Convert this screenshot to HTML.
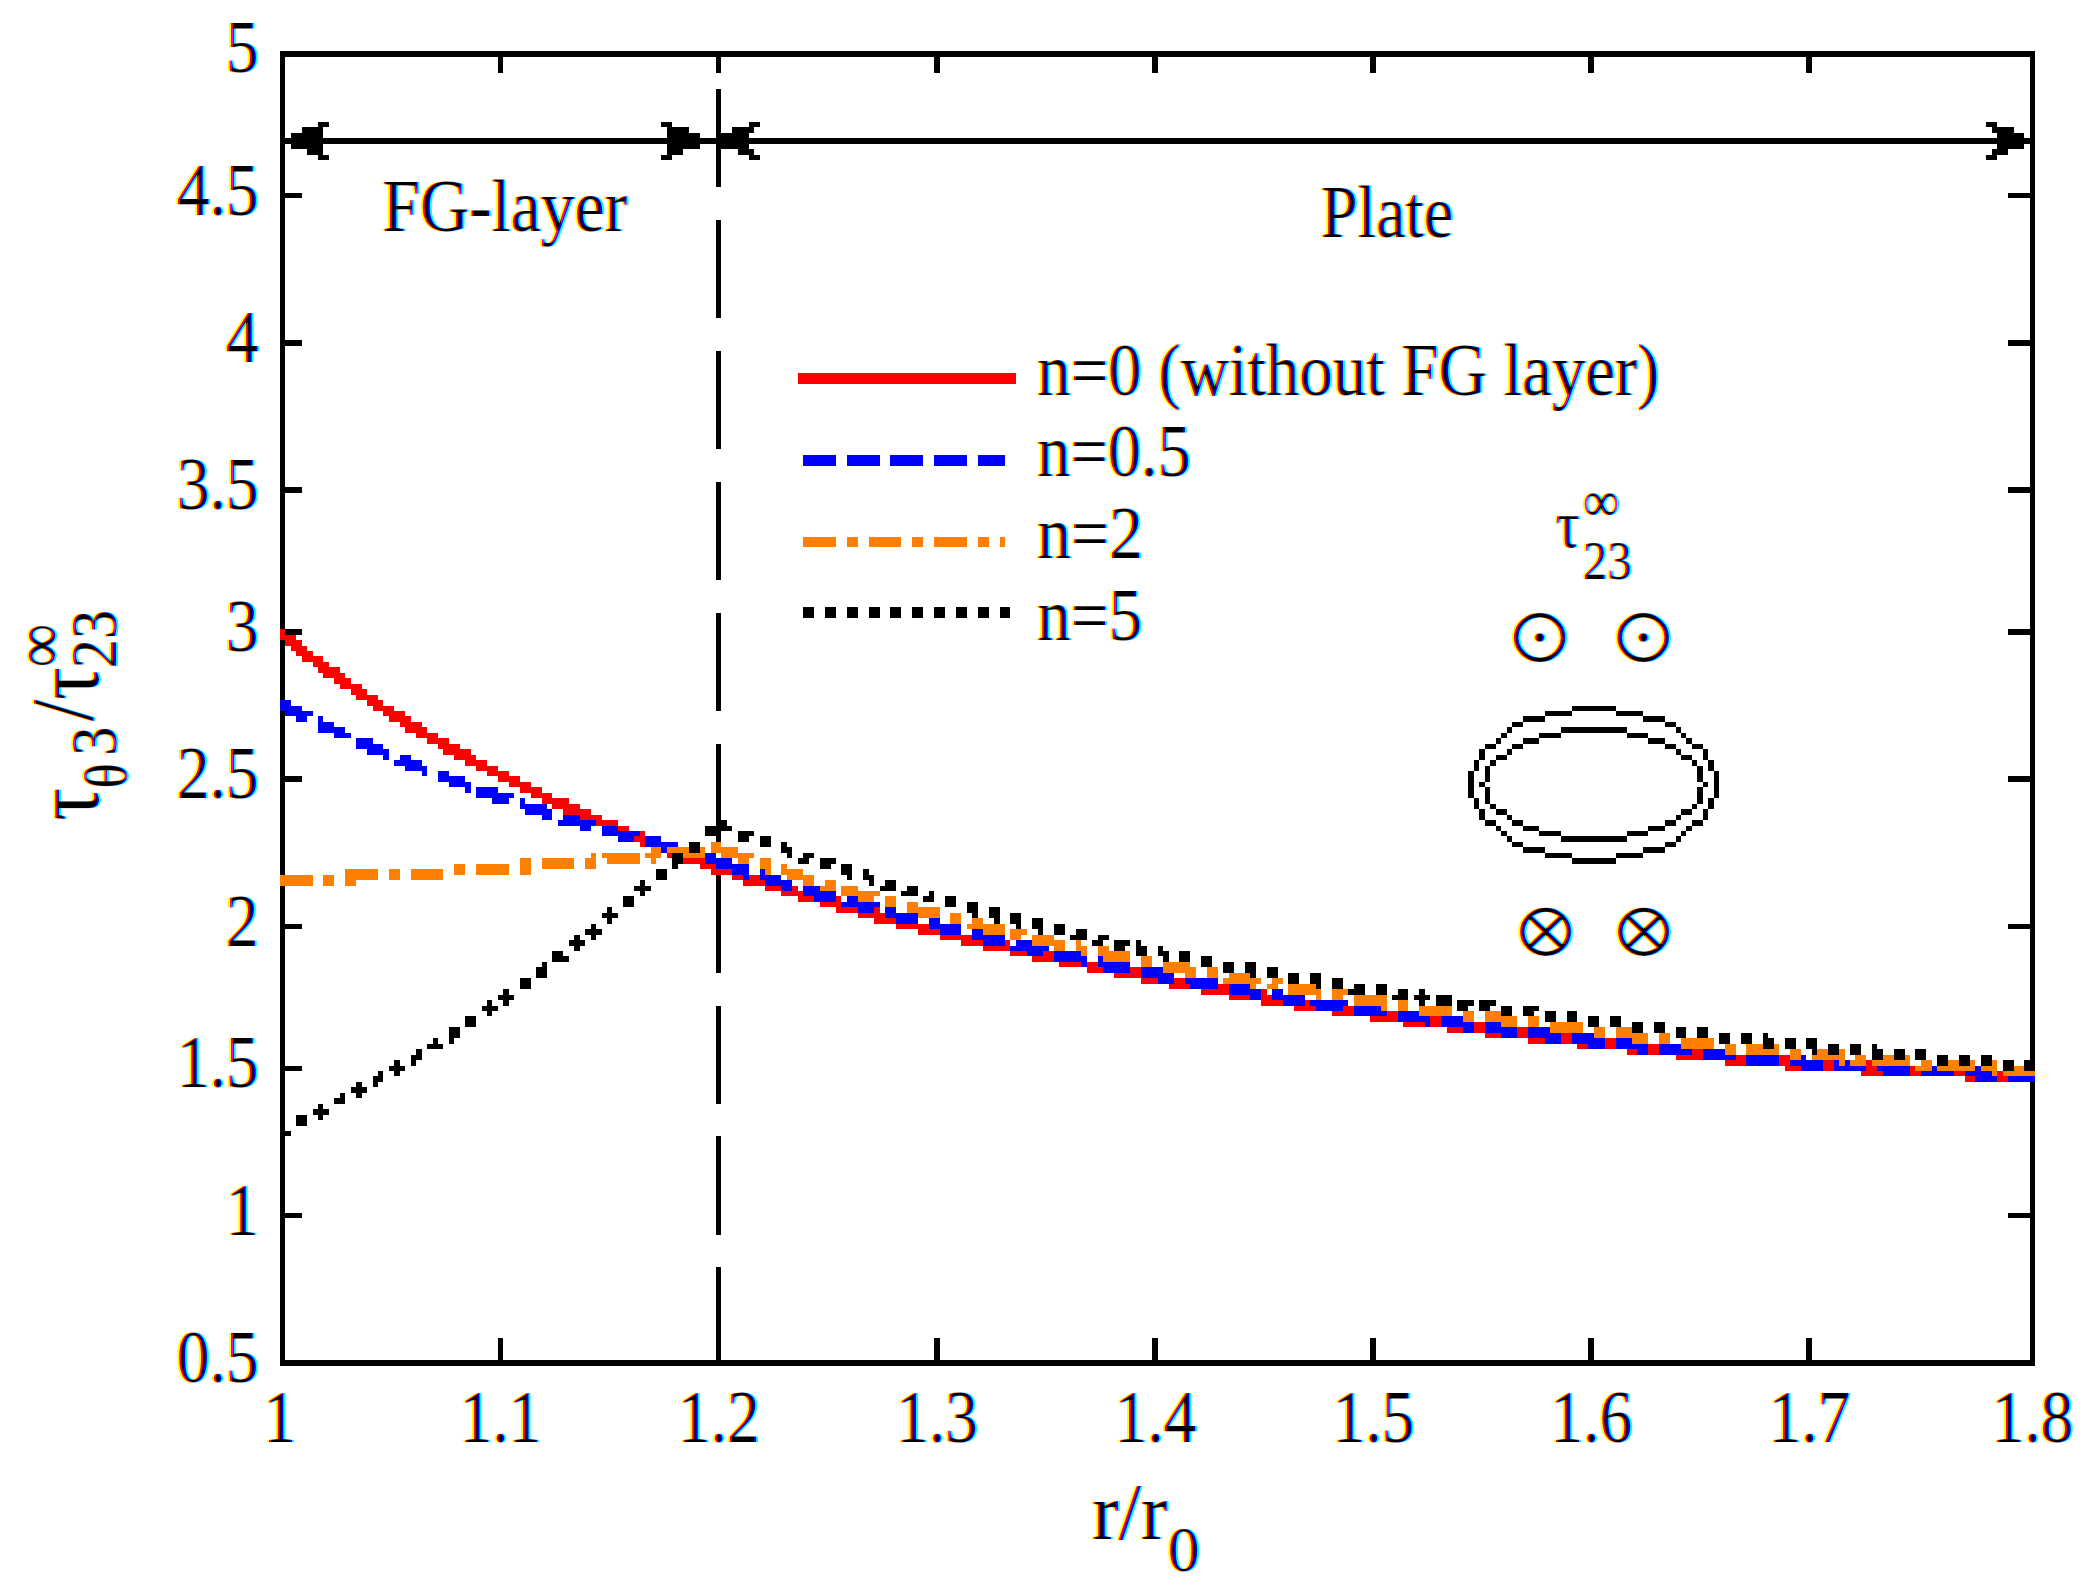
<!DOCTYPE html>
<html lang="en"><head><meta charset="utf-8"><title>Stress distribution chart</title>
<style>
html,body{margin:0;padding:0;background:#fff}
body{width:2099px;height:1590px;overflow:hidden}
svg{display:block}
text{font-family:"Liberation Serif",serif;fill:#000}
text.sym{font-family:"DejaVu Serif","DejaVu Sans",serif;stroke:#fff;stroke-width:1.7px}
</style></head><body>
<svg width="2099" height="1590" viewBox="0 0 2099 1590">
<defs>
<filter id="ct" filterUnits="userSpaceOnUse" x="0" y="0" width="2099" height="1590" color-interpolation-filters="sRGB">
<feColorMatrix in="SourceGraphic" type="matrix" values="0 0 0 0 0  0 0 0 0 0  0 0 0 0 0  -1 0 0 1 0" result="ink"/>
<feOffset in="ink" dx="2.4" dy="0" result="aR"/>
<feOffset in="ink" dx="-2.4" dy="0" result="aB"/>
<feColorMatrix in="aR" type="matrix" values="0 0 0 -1 1  0 0 0 0 1  0 0 0 0 1  0 0 0 0 1" result="cR"/>
<feColorMatrix in="ink" type="matrix" values="0 0 0 0 1  0 0 0 -1 1  0 0 0 0 1  0 0 0 0 1" result="cG"/>
<feColorMatrix in="aB" type="matrix" values="0 0 0 0 1  0 0 0 0 1  0 0 0 -1 1  0 0 0 0 1" result="cB"/>
<feBlend in="cR" in2="cG" mode="multiply" result="t"/>
<feBlend in="t" in2="cB" mode="multiply"/>
</filter>
</defs>
<rect width="2099" height="1590" fill="#fff"/>
<g shape-rendering="crispEdges">
<path d="M279.85 51.1H2035.4V56.55H279.85ZM279.85 1360.06H2035.4V1365.51H279.85ZM279.85 51.1H285.3V1365.51H279.85ZM2029.94 51.1H2035.4V1365.51H2029.94ZM497.93 56.55H503.38V72.92H497.93ZM497.93 1338.24H503.38V1360.06H497.93ZM716.01 56.55H721.46V72.92H716.01ZM716.01 1338.24H721.46V1360.06H716.01ZM934.09 56.55H939.54V72.92H934.09ZM934.09 1338.24H939.54V1360.06H934.09ZM1152.17 56.55H1157.62V72.92H1152.17ZM1152.17 1338.24H1157.62V1360.06H1152.17ZM1370.25 56.55H1375.7V72.92H1370.25ZM1370.25 1338.24H1375.7V1360.06H1370.25ZM1588.33 56.55H1593.78V72.92H1588.33ZM1588.33 1338.24H1593.78V1360.06H1588.33ZM1806.41 56.55H1811.86V72.92H1806.41ZM1806.41 1338.24H1811.86V1360.06H1806.41ZM285.3 192.9H301.66V198.36H285.3ZM2008.14 192.9H2029.94V198.36H2008.14ZM285.3 340.16H301.66V345.62H285.3ZM2008.14 340.16H2029.94V345.62H2008.14ZM285.3 487.42H301.66V492.87H285.3ZM2008.14 487.42H2029.94V492.87H2008.14ZM285.3 629.22H301.66V634.68H285.3ZM2008.14 629.22H2029.94V634.68H2008.14ZM285.3 776.48H301.66V781.94H285.3ZM2008.14 776.48H2029.94V781.94H2008.14ZM285.3 923.74H301.66V929.19H285.3ZM2008.14 923.74H2029.94V929.19H2008.14ZM285.3 1065.54H301.66V1071H285.3ZM2008.14 1065.54H2029.94V1071H2008.14ZM285.3 1212.8H301.66V1218.26H285.3ZM2008.14 1212.8H2029.94V1218.26H2008.14Z" fill="#000"/>
<path d="M716.01 89.28H721.46V187.45H716.01ZM716.01 220.17H721.46V318.35H716.01ZM716.01 351.07H721.46V449.24H716.01ZM716.01 481.97H721.46V580.14H716.01ZM716.01 612.86H721.46V711.03H716.01ZM716.01 743.76H721.46V841.93H716.01ZM716.01 874.65H721.46V972.83H716.01ZM716.01 1005.55H721.46V1103.72H716.01ZM716.01 1136.45H721.46V1234.62H716.01ZM716.01 1267.34H721.46V1365.51H716.01Z" fill="#000"/>
<path d="M279.85 629.22H285.3V634.68H279.85ZM279.85 634.68H296.21V640.13H279.85ZM285.3 640.13H301.66V645.59H285.3ZM290.76 645.59H307.11V651.04H290.76ZM296.21 651.04H312.56V656.49H296.21ZM301.66 656.49H323.47V661.95H301.66ZM312.56 661.95H328.92V667.4H312.56ZM318.02 667.4H339.82V672.86H318.02ZM323.47 672.86H345.28V678.31H323.47ZM334.37 678.31H350.73V683.76H334.37ZM339.82 683.76H361.63V689.22H339.82ZM350.73 689.22H367.08V694.67H350.73ZM356.18 694.67H377.99V700.13H356.18ZM367.08 700.13H383.44V705.58H367.08ZM372.54 705.58H394.34V711.03H372.54ZM383.44 711.03H405.25V716.49H383.44ZM388.89 716.49H410.7V721.94H388.89ZM399.8 721.94H421.6V727.4H399.8ZM405.25 727.4H427.06V732.85H405.25ZM416.15 732.85H437.96V738.3H416.15ZM427.06 738.3H448.86V743.76H427.06ZM437.96 743.76H459.77V749.21H437.96ZM443.41 749.21H470.67V754.67H443.41ZM454.32 754.67H476.12V760.12H454.32ZM465.22 760.12H487.03V765.57H465.22ZM476.12 765.57H497.93V771.03H476.12ZM487.03 771.03H508.84V776.48H487.03ZM497.93 776.48H519.74V781.94H497.93ZM508.84 781.94H530.64V787.39H508.84ZM519.74 787.39H541.55V792.84H519.74ZM530.64 792.84H552.45V798.3H530.64ZM541.55 798.3H568.81V803.75H541.55ZM552.45 803.75H579.71V809.21H552.45ZM563.36 809.21H590.62V814.66H563.36ZM574.26 814.66H601.52V820.11H574.26ZM590.62 820.11H617.88V825.57H590.62ZM601.52 825.57H628.78V831.02H601.52ZM612.42 831.02H645.14V836.48H612.42ZM628.78 836.48H656.04V841.93H628.78ZM639.68 841.93H672.4V847.38H639.68ZM656.04 847.38H688.75V852.84H656.04ZM666.94 852.84H699.66V858.29H666.94ZM683.3 858.29H716.01V863.75H683.3ZM699.66 863.75H732.37V869.2H699.66ZM710.56 869.2H748.72V874.65H710.56ZM732.37 874.65H765.08V880.11H732.37ZM743.27 880.11H781.44V885.56H743.27ZM765.08 885.56H797.79V891.02H765.08ZM781.44 891.02H819.6V896.47H781.44ZM797.79 896.47H841.41V901.92H797.79ZM819.6 901.92H857.76V907.38H819.6ZM835.96 907.38H879.57V912.83H835.96ZM857.76 912.83H895.93V918.29H857.76ZM874.12 918.29H917.74V923.74H874.12ZM895.93 923.74H939.54V929.19H895.93ZM917.74 929.19H961.35V934.65H917.74ZM939.54 934.65H988.61V940.1H939.54ZM961.35 940.1H1010.42V945.56H961.35ZM983.16 945.56H1037.68V951.01H983.16ZM1010.42 951.01H1064.94V956.46H1010.42ZM1032.23 956.46H1086.75V961.92H1032.23ZM1059.49 961.92H1114.01V967.37H1059.49ZM1086.75 967.37H1141.27V972.83H1086.75ZM1114.01 972.83H1173.98V978.28H1114.01ZM1141.27 978.28H1201.24V983.73H1141.27ZM1168.53 983.73H1233.95V989.19H1168.53ZM1201.24 989.19H1266.66V994.64H1201.24ZM1228.5 994.64H1299.38V1000.1H1228.5ZM1261.21 1000.1H1337.54V1005.55H1261.21ZM1293.92 1005.55H1370.25V1011H1293.92ZM1332.09 1011H1408.42V1016.46H1332.09ZM1370.25 1016.46H1446.58V1021.91H1370.25ZM1402.96 1021.91H1490.2V1027.37H1402.96ZM1446.58 1027.37H1533.81V1032.82H1446.58ZM1484.74 1032.82H1582.88V1038.27H1484.74ZM1528.36 1038.27H1631.95V1043.73H1528.36ZM1577.43 1043.73H1681.02V1049.18H1577.43ZM1626.5 1049.18H1735.54V1054.64H1626.5ZM1675.56 1054.64H1790.06V1060.09H1675.56ZM1724.63 1060.09H1871.84V1065.54H1724.63ZM1784.6 1065.54H1975.42V1071H1784.6ZM1860.93 1071H2035.4V1076.45H1860.93ZM1964.52 1076.45H2035.4V1081.91H1964.52Z" fill="#ff0000"/>
<path d="M279.85 700.13H290.76V705.58H279.85ZM279.85 705.58H301.66V711.03H279.85ZM285.3 711.03H312.56V716.49H285.3ZM296.21 716.49H307.11V721.94H296.21ZM318.02 716.49H323.47V721.94H318.02ZM318.02 721.94H334.37V727.4H318.02ZM318.02 727.4H345.28V732.85H318.02ZM334.37 732.85H350.73V738.3H334.37ZM356.18 738.3H372.54V743.76H356.18ZM356.18 743.76H383.44V749.21H356.18ZM367.08 749.21H388.89V754.67H367.08ZM383.44 754.67H388.89V760.12H383.44ZM394.34 760.12H421.6V765.57H394.34ZM399.8 754.67H410.7V760.12H399.8ZM405.25 765.57H427.06V771.03H405.25ZM421.6 771.03H427.06V776.48H421.6ZM437.96 771.03H448.86V776.48H437.96ZM437.96 776.48H465.22V781.94H437.96ZM448.86 781.94H470.67V787.39H448.86ZM465.22 787.39H470.67V792.84H465.22ZM476.12 787.39H497.93V792.84H476.12ZM476.12 792.84H514.29V798.3H476.12ZM492.48 798.3H508.84V803.75H492.48ZM519.74 798.3H525.19V803.75H519.74ZM519.74 803.75H547V809.21H519.74ZM525.19 809.21H552.45V814.66H525.19ZM541.55 814.66H552.45V820.11H541.55ZM557.9 820.11H596.07V825.57H557.9ZM563.36 814.66H579.71V820.11H563.36ZM579.71 825.57H590.62V831.02H579.71ZM601.52 825.57H617.88V831.02H601.52ZM601.52 831.02H639.68V836.48H601.52ZM617.88 836.48H634.23V841.93H617.88ZM645.14 836.48H661.49V841.93H645.14ZM645.14 841.93H677.85V847.38H645.14ZM661.49 847.38H677.85V852.84H661.49ZM688.75 847.38H705.11V852.84H688.75ZM688.75 852.84H716.01V858.29H688.75ZM705.11 858.29H732.37V863.75H705.11ZM716.01 863.75H748.72V869.2H716.01ZM732.37 869.2H748.72V874.65H732.37ZM743.27 874.65H748.72V880.11H743.27ZM759.63 869.2H765.08V874.65H759.63ZM759.63 874.65H781.44V880.11H759.63ZM765.08 880.11H792.34V885.56H765.08ZM781.44 885.56H792.34V891.02H781.44ZM803.24 885.56H819.6V891.02H803.24ZM803.24 891.02H835.96V896.47H803.24ZM814.15 896.47H835.96V901.92H814.15ZM841.41 901.92H879.57V907.38H841.41ZM846.86 896.47H857.76V901.92H846.86ZM857.76 907.38H874.12V912.83H857.76ZM885.02 907.38H895.93V912.83H885.02ZM885.02 912.83H917.74V918.29H885.02ZM895.93 918.29H917.74V923.74H895.93ZM928.64 918.29H939.54V923.74H928.64ZM928.64 923.74H961.35V929.19H928.64ZM939.54 929.19H961.35V934.65H939.54ZM972.26 929.19H983.16V934.65H972.26ZM972.26 934.65H1004.97V940.1H972.26ZM983.16 940.1H1004.97V945.56H983.16ZM1010.42 945.56H1048.58V951.01H1010.42ZM1015.87 940.1H1032.23V945.56H1015.87ZM1026.78 951.01H1043.13V956.46H1026.78ZM1054.04 951.01H1081.3V956.46H1054.04ZM1054.04 956.46H1086.75V961.92H1054.04ZM1081.3 961.92H1086.75V967.37H1081.3ZM1097.65 956.46H1108.56V961.92H1097.65ZM1097.65 961.92H1130.36V967.37H1097.65ZM1103.1 967.37H1130.36V972.83H1103.1ZM1141.27 967.37H1163.08V972.83H1141.27ZM1141.27 972.83H1173.98V978.28H1141.27ZM1157.62 978.28H1173.98V983.73H1157.62ZM1184.88 972.83H1190.34V978.28H1184.88ZM1184.88 978.28H1217.6V983.73H1184.88ZM1190.34 983.73H1217.6V989.19H1190.34ZM1228.5 983.73H1250.31V989.19H1228.5ZM1228.5 989.19H1261.21V994.64H1228.5ZM1250.31 994.64H1261.21V1000.1H1250.31ZM1272.12 989.19H1283.02V994.64H1272.12ZM1272.12 994.64H1304.83V1000.1H1272.12ZM1283.02 1000.1H1304.83V1005.55H1283.02ZM1310.28 1000.1H1348.44V1005.55H1310.28ZM1315.73 1005.55H1342.99V1011H1315.73ZM1353.9 1005.55H1386.61V1016.46H1353.9ZM1397.51 1011H1424.77V1016.46H1397.51ZM1397.51 1016.46H1430.22V1021.91H1397.51ZM1424.77 1021.91H1430.22V1027.37H1424.77ZM1441.13 1016.46H1468.39V1021.91H1441.13ZM1441.13 1021.91H1473.84V1027.37H1441.13ZM1462.94 1027.37H1473.84V1032.82H1462.94ZM1484.74 1021.91H1506.55V1027.37H1484.74ZM1484.74 1027.37H1517.46V1032.82H1484.74ZM1501.1 1032.82H1517.46V1038.27H1501.1ZM1528.36 1027.37H1550.17V1032.82H1528.36ZM1528.36 1032.82H1561.07V1038.27H1528.36ZM1544.72 1038.27H1561.07V1043.73H1544.72ZM1571.98 1032.82H1593.78V1038.27H1571.98ZM1571.98 1038.27H1604.69V1043.73H1571.98ZM1588.33 1043.73H1604.69V1049.18H1588.33ZM1615.59 1038.27H1642.85V1043.73H1615.59ZM1615.59 1043.73H1648.3V1049.18H1615.59ZM1637.4 1049.18H1648.3V1054.64H1637.4ZM1659.21 1043.73H1691.92V1054.64H1659.21ZM1702.82 1049.18H1735.54V1060.09H1702.82ZM1746.44 1054.64H1779.15V1065.54H1746.44ZM1790.06 1054.64H1806.41V1060.09H1790.06ZM1790.06 1060.09H1822.77V1065.54H1790.06ZM1800.96 1065.54H1822.77V1071H1800.96ZM1833.67 1060.09H1866.38V1071H1833.67ZM1877.29 1060.09H1888.19V1065.54H1877.29ZM1877.29 1065.54H1910V1071H1877.29ZM1882.74 1071H1910V1076.45H1882.74ZM1920.9 1065.54H1953.62V1076.45H1920.9ZM1964.52 1065.54H1986.33V1071H1964.52ZM1964.52 1071H1997.23V1076.45H1964.52ZM1975.42 1076.45H1997.23V1081.91H1975.42ZM2008.14 1071H2035.4V1081.91H2008.14Z" fill="#0000ff"/>
<path d="M279.85 874.65H312.56V885.56H279.85ZM323.47 874.65H334.37V885.56H323.47ZM345.28 880.11H356.18V885.56H345.28ZM345.28 869.2H377.99V880.11H345.28ZM388.89 869.2H399.8V880.11H388.89ZM410.7 869.2H443.41V880.11H410.7ZM454.32 863.75H465.22V874.65H454.32ZM476.12 863.75H508.84V874.65H476.12ZM519.74 858.29H530.64V874.65H519.74ZM541.55 858.29H574.26V869.2H541.55ZM585.16 858.29H596.07V869.2H585.16ZM590.62 852.84H596.07V858.29H590.62ZM601.52 852.84H639.68V858.29H601.52ZM606.97 858.29H639.68V863.75H606.97ZM645.14 852.84H661.49V858.29H645.14ZM650.59 858.29H656.04V863.75H650.59ZM650.59 847.38H661.49V852.84H650.59ZM666.94 847.38H705.11V852.84H666.94ZM672.4 852.84H705.11V858.29H672.4ZM710.56 841.93H721.46V847.38H710.56ZM710.56 847.38H737.82V852.84H710.56ZM721.46 852.84H754.18V858.29H721.46ZM737.82 858.29H748.72V863.75H737.82ZM759.63 858.29H770.53V869.2H759.63ZM765.08 869.2H770.53V874.65H765.08ZM781.44 863.75H786.89V869.2H781.44ZM781.44 869.2H803.24V874.65H781.44ZM786.89 874.65H814.15V880.11H786.89ZM803.24 880.11H814.15V885.56H803.24ZM819.6 885.56H835.96V891.02H819.6ZM825.05 880.11H835.96V885.56H825.05ZM841.41 885.56H857.76V891.02H841.41ZM841.41 891.02H879.57V896.47H841.41ZM857.76 896.47H874.12V901.92H857.76ZM885.02 896.47H895.93V907.38H885.02ZM906.83 901.92H917.74V907.38H906.83ZM906.83 907.38H939.54V912.83H906.83ZM917.74 912.83H939.54V918.29H917.74ZM950.45 912.83H961.35V923.74H950.45ZM966.8 923.74H1004.97V929.19H966.8ZM972.26 918.29H983.16V923.74H972.26ZM983.16 929.19H1004.97V934.65H983.16ZM1010.42 934.65H1021.32V940.1H1010.42ZM1010.42 929.19H1026.78V934.65H1010.42ZM1032.23 934.65H1054.04V940.1H1032.23ZM1032.23 940.1H1064.94V945.56H1032.23ZM1054.04 945.56H1064.94V951.01H1054.04ZM1075.84 940.1H1081.3V945.56H1075.84ZM1075.84 945.56H1086.75V951.01H1075.84ZM1081.3 951.01H1086.75V956.46H1081.3ZM1097.65 945.56H1108.56V951.01H1097.65ZM1097.65 951.01H1130.36V956.46H1097.65ZM1103.1 956.46H1130.36V961.92H1103.1ZM1141.27 956.46H1152.17V967.37H1141.27ZM1163.08 961.92H1190.34V967.37H1163.08ZM1163.08 967.37H1195.79V972.83H1163.08ZM1184.88 972.83H1195.79V978.28H1184.88ZM1206.69 967.37H1217.6V978.28H1206.69ZM1223.05 978.28H1261.21V983.73H1223.05ZM1228.5 972.83H1250.31V978.28H1228.5ZM1250.31 983.73H1255.76V989.19H1250.31ZM1266.66 983.73H1277.57V989.19H1266.66ZM1272.12 978.28H1283.02V983.73H1272.12ZM1288.47 983.73H1315.73V989.19H1288.47ZM1288.47 989.19H1321.18V994.64H1288.47ZM1315.73 994.64H1321.18V1000.1H1315.73ZM1332.09 994.64H1342.99V1000.1H1332.09ZM1332.09 989.19H1348.44V994.64H1332.09ZM1353.9 994.64H1386.61V1005.55H1353.9ZM1381.16 1005.55H1386.61V1011H1381.16ZM1397.51 1000.1H1408.42V1011H1397.51ZM1419.32 1000.1H1424.77V1005.55H1419.32ZM1419.32 1005.55H1452.03V1016.46H1419.32ZM1462.94 1011H1473.84V1021.91H1462.94ZM1484.74 1011H1506.55V1016.46H1484.74ZM1484.74 1016.46H1517.46V1021.91H1484.74ZM1501.1 1021.91H1517.46V1027.37H1501.1ZM1528.36 1016.46H1539.26V1027.37H1528.36ZM1550.17 1021.91H1582.88V1032.82H1550.17ZM1593.78 1027.37H1604.69V1038.27H1593.78ZM1615.59 1027.37H1637.4V1032.82H1615.59ZM1615.59 1032.82H1648.3V1038.27H1615.59ZM1631.95 1038.27H1648.3V1043.73H1631.95ZM1659.21 1032.82H1670.11V1043.73H1659.21ZM1681.02 1038.27H1713.73V1049.18H1681.02ZM1724.63 1038.27H1730.08V1043.73H1724.63ZM1724.63 1043.73H1735.54V1054.64H1724.63ZM1746.44 1043.73H1779.15V1054.64H1746.44ZM1790.06 1049.18H1800.96V1060.09H1790.06ZM1811.86 1049.18H1844.58V1060.09H1811.86ZM1839.12 1060.09H1844.58V1065.54H1839.12ZM1850.03 1060.09H1866.38V1065.54H1850.03ZM1855.48 1054.64H1866.38V1060.09H1855.48ZM1871.84 1060.09H1910V1065.54H1871.84ZM1877.29 1054.64H1910V1060.09H1877.29ZM1915.45 1065.54H1931.81V1071H1915.45ZM1920.9 1060.09H1931.81V1065.54H1920.9ZM1937.26 1065.54H1975.42V1071H1937.26ZM1942.71 1060.09H1975.42V1065.54H1942.71ZM1980.88 1065.54H1997.23V1071H1980.88ZM1986.33 1060.09H1997.23V1065.54H1986.33ZM1991.78 1071H1997.23V1076.45H1991.78ZM2002.68 1071H2035.4V1076.45H2002.68ZM2008.14 1065.54H2035.4V1071H2008.14Z" fill="#ff8000"/>
<path d="M279.85 1125.54H285.3V1130.99H279.85ZM279.85 1136.45H285.3V1141.9H279.85ZM279.85 1130.99H290.76V1136.45H279.85ZM296.21 1114.63H307.11V1125.54H296.21ZM312.56 1109.18H328.92V1114.63H312.56ZM318.02 1103.72H323.47V1109.18H318.02ZM318.02 1114.63H323.47V1120.08H318.02ZM334.37 1098.27H345.28V1103.72H334.37ZM339.82 1092.81H345.28V1098.27H339.82ZM350.73 1087.36H367.08V1092.81H350.73ZM356.18 1081.91H361.63V1087.36H356.18ZM356.18 1092.81H361.63V1098.27H356.18ZM372.54 1081.91H377.99V1087.36H372.54ZM372.54 1076.45H383.44V1081.91H372.54ZM377.99 1071H383.44V1076.45H377.99ZM388.89 1065.54H405.25V1071H388.89ZM394.34 1060.09H399.8V1065.54H394.34ZM394.34 1071H399.8V1076.45H394.34ZM410.7 1060.09H416.15V1065.54H410.7ZM410.7 1054.64H421.6V1060.09H410.7ZM416.15 1049.18H421.6V1054.64H416.15ZM427.06 1043.73H443.41V1049.18H427.06ZM432.51 1038.27H437.96V1043.73H432.51ZM448.86 1038.27H454.32V1043.73H448.86ZM448.86 1027.37H459.77V1038.27H448.86ZM465.22 1016.46H476.12V1027.37H465.22ZM481.58 1005.55H497.93V1011H481.58ZM487.03 1000.1H492.48V1005.55H487.03ZM487.03 1011H492.48V1016.46H487.03ZM497.93 994.64H514.29V1000.1H497.93ZM503.38 989.19H508.84V994.64H503.38ZM503.38 1000.1H508.84V1005.55H503.38ZM519.74 978.28H530.64V989.19H519.74ZM536.1 967.37H547V978.28H536.1ZM541.55 961.92H547V967.37H541.55ZM552.45 951.01H563.36V956.46H552.45ZM552.45 956.46H568.81V961.92H552.45ZM568.81 940.1H585.16V945.56H568.81ZM574.26 934.65H579.71V940.1H574.26ZM574.26 945.56H579.71V951.01H574.26ZM585.16 929.19H601.52V934.65H585.16ZM590.62 923.74H596.07V929.19H590.62ZM590.62 934.65H596.07V940.1H590.62ZM601.52 912.83H617.88V918.29H601.52ZM606.97 907.38H612.42V912.83H606.97ZM606.97 918.29H612.42V923.74H606.97ZM623.33 896.47H634.23V907.38H623.33ZM634.23 885.56H650.59V891.02H634.23ZM639.68 880.11H645.14V885.56H639.68ZM639.68 891.02H645.14V896.47H639.68ZM656.04 869.2H666.94V880.11H656.04ZM672.4 863.75H677.85V869.2H672.4ZM672.4 852.84H683.3V863.75H672.4ZM688.75 841.93H699.66V852.84H688.75ZM705.11 831.02H721.46V836.48H705.11ZM705.11 825.57H732.37V831.02H705.11ZM721.46 820.11H726.92V825.57H721.46ZM737.82 836.48H748.72V841.93H737.82ZM737.82 831.02H754.18V836.48H737.82ZM759.63 836.48H770.53V847.38H759.63ZM781.44 841.93H786.89V847.38H781.44ZM781.44 847.38H792.34V852.84H781.44ZM786.89 852.84H792.34V858.29H786.89ZM797.79 858.29H808.7V863.75H797.79ZM803.24 852.84H814.15V858.29H803.24ZM819.6 863.75H830.5V869.2H819.6ZM819.6 858.29H835.96V863.75H819.6ZM841.41 863.75H852.31V874.65H841.41ZM846.86 874.65H852.31V880.11H846.86ZM863.22 869.2H868.67V874.65H863.22ZM863.22 874.65H874.12V880.11H863.22ZM868.67 880.11H874.12V885.56H868.67ZM879.57 885.56H895.93V891.02H879.57ZM885.02 880.11H895.93V885.56H885.02ZM901.38 891.02H917.74V896.47H901.38ZM906.83 885.56H917.74V891.02H906.83ZM923.19 896.47H934.09V901.92H923.19ZM928.64 891.02H934.09V896.47H928.64ZM945 896.47H955.9V907.38H945ZM966.8 901.92H977.71V912.83H966.8ZM972.26 912.83H977.71V918.29H972.26ZM988.61 907.38H999.52V918.29H988.61ZM994.06 918.29H999.52V923.74H994.06ZM1010.42 912.83H1021.32V923.74H1010.42ZM1015.87 923.74H1021.32V929.19H1015.87ZM1032.23 918.29H1043.13V929.19H1032.23ZM1037.68 929.19H1043.13V934.65H1037.68ZM1054.04 923.74H1064.94V934.65H1054.04ZM1070.39 934.65H1086.75V940.1H1070.39ZM1075.84 929.19H1086.75V934.65H1075.84ZM1092.2 940.1H1103.1V945.56H1092.2ZM1097.65 934.65H1108.56V940.1H1097.65ZM1114.01 945.56H1124.91V951.01H1114.01ZM1114.01 940.1H1130.36V945.56H1114.01ZM1135.82 940.1H1141.27V945.56H1135.82ZM1135.82 945.56H1146.72V956.46H1135.82ZM1157.62 945.56H1163.08V951.01H1157.62ZM1157.62 951.01H1168.53V956.46H1157.62ZM1163.08 956.46H1168.53V961.92H1163.08ZM1179.43 951.01H1190.34V961.92H1179.43ZM1201.24 956.46H1212.14V967.37H1201.24ZM1223.05 961.92H1233.95V972.83H1223.05ZM1244.86 961.92H1255.76V972.83H1244.86ZM1250.31 972.83H1255.76V978.28H1250.31ZM1266.66 967.37H1277.57V978.28H1266.66ZM1288.47 972.83H1299.38V983.73H1288.47ZM1310.28 972.83H1321.18V983.73H1310.28ZM1315.73 983.73H1321.18V989.19H1315.73ZM1332.09 978.28H1342.99V989.19H1332.09ZM1348.44 989.19H1364.8V994.64H1348.44ZM1353.9 983.73H1364.8V989.19H1353.9ZM1375.7 983.73H1386.61V994.64H1375.7ZM1392.06 994.64H1408.42V1000.1H1392.06ZM1397.51 989.19H1408.42V994.64H1397.51ZM1413.87 994.64H1430.22V1000.1H1413.87ZM1419.32 989.19H1424.77V994.64H1419.32ZM1419.32 1000.1H1424.77V1005.55H1419.32ZM1435.68 994.64H1452.03V1005.55H1435.68ZM1457.48 1005.55H1468.39V1011H1457.48ZM1457.48 1000.1H1473.84V1005.55H1457.48ZM1479.29 1005.55H1490.2V1011H1479.29ZM1479.29 1000.1H1495.65V1005.55H1479.29ZM1501.1 1005.55H1512V1016.46H1501.1ZM1522.91 1011H1533.81V1016.46H1522.91ZM1522.91 1005.55H1539.26V1011H1522.91ZM1544.72 1011H1555.62V1021.91H1544.72ZM1566.52 1011H1577.43V1021.91H1566.52ZM1588.33 1016.46H1599.24V1027.37H1588.33ZM1610.14 1016.46H1621.04V1027.37H1610.14ZM1631.95 1021.91H1642.85V1032.82H1631.95ZM1653.76 1021.91H1664.66V1032.82H1653.76ZM1675.56 1027.37H1686.47V1038.27H1675.56ZM1697.37 1027.37H1708.28V1038.27H1697.37ZM1719.18 1032.82H1730.08V1043.73H1719.18ZM1740.99 1032.82H1751.89V1043.73H1740.99ZM1762.8 1032.82H1768.25V1038.27H1762.8ZM1762.8 1038.27H1773.7V1049.18H1762.8ZM1784.6 1038.27H1795.51V1049.18H1784.6ZM1806.41 1038.27H1817.32V1049.18H1806.41ZM1811.86 1049.18H1817.32V1054.64H1811.86ZM1828.22 1043.73H1839.12V1054.64H1828.22ZM1850.03 1043.73H1860.93V1054.64H1850.03ZM1871.84 1043.73H1877.29V1049.18H1871.84ZM1871.84 1049.18H1882.74V1060.09H1871.84ZM1893.64 1049.18H1904.55V1060.09H1893.64ZM1915.45 1049.18H1926.36V1060.09H1915.45ZM1937.26 1054.64H1948.16V1065.54H1937.26ZM1959.07 1054.64H1969.97V1065.54H1959.07ZM1980.88 1054.64H1991.78V1065.54H1980.88ZM2002.68 1060.09H2013.59V1071H2002.68ZM2024.49 1060.09H2035.4V1071H2024.49Z" fill="#000000"/>
<path d="M797.79 372.89H1015.87V383.79H797.79Z" fill="#ff0000"/>
<path d="M803.24 454.7H835.96V465.6H803.24ZM846.86 454.7H879.57V465.6H846.86ZM890.48 454.7H923.19V465.6H890.48ZM934.09 454.7H966.8V465.6H934.09ZM977.71 454.7H1004.97V465.6H977.71Z" fill="#0000ff"/>
<path d="M803.24 536.51H835.96V547.41H803.24ZM846.86 536.51H857.76V547.41H846.86ZM868.67 536.51H901.38V547.41H868.67ZM912.28 536.51H923.19V547.41H912.28ZM934.09 536.51H966.8V547.41H934.09ZM977.71 536.51H988.61V547.41H977.71ZM999.52 536.51H1004.97V547.41H999.52Z" fill="#ff8000"/>
<path d="M803.24 607.41H814.15V618.32H803.24ZM825.05 607.41H835.96V618.32H825.05ZM846.86 607.41H857.76V618.32H846.86ZM868.67 607.41H879.57V618.32H868.67ZM890.48 607.41H901.38V618.32H890.48ZM912.28 607.41H923.19V618.32H912.28ZM934.09 607.41H945V618.32H934.09ZM955.9 607.41H966.8V618.32H955.9ZM977.71 607.41H988.61V618.32H977.71ZM999.52 607.41H1010.42V618.32H999.52Z" fill="#000000"/>
<path d="M285.3 138.36H2029.94V143.82H285.3ZM318.02 122H328.92V127.46H318.02ZM301.66 127.46H323.47V132.91H301.66ZM290.76 132.91H323.47V138.36H290.76ZM290.76 143.82H323.47V149.27H290.76ZM307.11 149.27H323.47V154.73H307.11ZM318.02 154.73H328.92V160.18H318.02ZM661.49 122H672.4V127.46H661.49ZM666.94 127.46H688.75V132.91H666.94ZM666.94 132.91H699.66V138.36H666.94ZM666.94 143.82H699.66V149.27H666.94ZM666.94 149.27H683.3V154.73H666.94ZM661.49 154.73H672.4V160.18H661.49ZM748.72 122H759.63V127.46H748.72ZM732.37 127.46H754.18V132.91H732.37ZM721.46 132.91H748.72V138.36H721.46ZM721.46 143.82H748.72V149.27H721.46ZM737.82 149.27H754.18V154.73H737.82ZM748.72 154.73H759.63V160.18H748.72ZM1986.33 122H1997.23V127.46H1986.33ZM1991.78 127.46H2013.59V132.91H1991.78ZM1997.23 132.91H2024.49V138.36H1997.23ZM1997.23 143.82H2024.49V149.27H1997.23ZM1991.78 149.27H2008.14V154.73H1991.78ZM1986.33 154.73H1997.23V160.18H1986.33Z" fill="#000"/>
<path d="M1468.39 771.03H1473.84V798.3H1468.39ZM1473.84 760.12H1479.29V771.03H1473.84ZM1473.84 798.3H1479.29V809.21H1473.84ZM1479.29 749.21H1484.74V760.12H1479.29ZM1479.29 781.94H1484.74V787.39H1479.29ZM1479.29 809.21H1484.74V820.11H1479.29ZM1484.74 765.57H1490.2V781.94H1484.74ZM1484.74 787.39H1490.2V803.75H1484.74ZM1484.74 743.76H1495.65V749.21H1484.74ZM1484.74 820.11H1495.65V825.57H1484.74ZM1490.2 760.12H1495.65V765.57H1490.2ZM1490.2 803.75H1495.65V809.21H1490.2ZM1495.65 738.3H1501.1V743.76H1495.65ZM1495.65 825.57H1501.1V831.02H1495.65ZM1495.65 754.67H1506.55V760.12H1495.65ZM1495.65 809.21H1506.55V814.66H1495.65ZM1501.1 732.85H1506.55V738.3H1501.1ZM1501.1 831.02H1506.55V836.48H1501.1ZM1506.55 727.4H1512V732.85H1506.55ZM1506.55 749.21H1512V754.67H1506.55ZM1506.55 814.66H1512V820.11H1506.55ZM1506.55 836.48H1512V841.93H1506.55ZM1512 721.94H1522.91V727.4H1512ZM1512 743.76H1522.91V749.21H1512ZM1512 820.11H1522.91V825.57H1512ZM1512 841.93H1522.91V847.38H1512ZM1522.91 738.3H1539.26V743.76H1522.91ZM1522.91 825.57H1539.26V831.02H1522.91ZM1522.91 716.49H1544.72V721.94H1522.91ZM1522.91 847.38H1544.72V852.84H1522.91ZM1539.26 732.85H1561.07V738.3H1539.26ZM1539.26 831.02H1561.07V836.48H1539.26ZM1544.72 711.03H1571.98V716.49H1544.72ZM1544.72 852.84H1571.98V858.29H1544.72ZM1561.07 727.4H1626.5V732.85H1561.07ZM1561.07 836.48H1626.5V841.93H1561.07ZM1571.98 705.58H1615.59V711.03H1571.98ZM1571.98 858.29H1615.59V863.75H1571.98ZM1615.59 711.03H1642.85V716.49H1615.59ZM1615.59 852.84H1642.85V858.29H1615.59ZM1626.5 732.85H1648.3V738.3H1626.5ZM1626.5 831.02H1648.3V836.48H1626.5ZM1642.85 716.49H1664.66V721.94H1642.85ZM1642.85 847.38H1664.66V852.84H1642.85ZM1648.3 738.3H1664.66V743.76H1648.3ZM1648.3 825.57H1664.66V831.02H1648.3ZM1664.66 721.94H1675.56V727.4H1664.66ZM1664.66 743.76H1675.56V749.21H1664.66ZM1664.66 820.11H1675.56V825.57H1664.66ZM1664.66 841.93H1675.56V847.38H1664.66ZM1675.56 727.4H1681.02V732.85H1675.56ZM1675.56 749.21H1681.02V754.67H1675.56ZM1675.56 814.66H1681.02V820.11H1675.56ZM1675.56 836.48H1681.02V841.93H1675.56ZM1681.02 732.85H1686.47V738.3H1681.02ZM1681.02 831.02H1686.47V836.48H1681.02ZM1681.02 754.67H1691.92V760.12H1681.02ZM1681.02 809.21H1691.92V814.66H1681.02ZM1686.47 738.3H1691.92V743.76H1686.47ZM1686.47 825.57H1691.92V831.02H1686.47ZM1691.92 760.12H1697.37V765.57H1691.92ZM1691.92 803.75H1697.37V809.21H1691.92ZM1691.92 743.76H1702.82V749.21H1691.92ZM1691.92 820.11H1702.82V825.57H1691.92ZM1697.37 765.57H1702.82V781.94H1697.37ZM1697.37 787.39H1702.82V803.75H1697.37ZM1702.82 749.21H1708.28V760.12H1702.82ZM1702.82 781.94H1708.28V787.39H1702.82ZM1702.82 809.21H1708.28V820.11H1702.82ZM1708.28 760.12H1713.73V771.03H1708.28ZM1708.28 798.3H1713.73V809.21H1708.28ZM1713.73 771.03H1719.18V798.3H1713.73Z" fill="#000"/>
</g>
<g filter="url(#ct)" style="mix-blend-mode:multiply">
<text transform="translate(258.5 72) scale(0.892 1)" font-size="73.3" text-anchor="end">5</text>
<text transform="translate(258.5 214.8) scale(0.892 1)" font-size="73.3" text-anchor="end">4.5</text>
<text transform="translate(258.5 361.8) scale(0.892 1)" font-size="73.3" text-anchor="end">4</text>
<text transform="translate(258.5 508.9) scale(0.892 1)" font-size="73.3" text-anchor="end">3.5</text>
<text transform="translate(258.5 651) scale(0.892 1)" font-size="73.3" text-anchor="end">3</text>
<text transform="translate(258.5 798.4) scale(0.892 1)" font-size="73.3" text-anchor="end">2.5</text>
<text transform="translate(258.5 945.5) scale(0.892 1)" font-size="73.3" text-anchor="end">2</text>
<text transform="translate(258.5 1087.2) scale(0.892 1)" font-size="73.3" text-anchor="end">1.5</text>
<text transform="translate(258.5 1234.6) scale(0.892 1)" font-size="73.3" text-anchor="end">1</text>
<text transform="translate(258.5 1381.8) scale(0.892 1)" font-size="73.3" text-anchor="end">0.5</text>
<text transform="translate(279.6 1441.8) scale(0.892 1)" font-size="73.3" text-anchor="middle">1</text>
<text transform="translate(500.3 1441.8) scale(0.892 1)" font-size="73.3" text-anchor="middle">1.1</text>
<text transform="translate(718.7 1441.8) scale(0.892 1)" font-size="73.3" text-anchor="middle">1.2</text>
<text transform="translate(936.8 1441.8) scale(0.892 1)" font-size="73.3" text-anchor="middle">1.3</text>
<text transform="translate(1155.3 1441.8) scale(0.892 1)" font-size="73.3" text-anchor="middle">1.4</text>
<text transform="translate(1373.3 1441.8) scale(0.892 1)" font-size="73.3" text-anchor="middle">1.5</text>
<text transform="translate(1591.2 1441.8) scale(0.892 1)" font-size="73.3" text-anchor="middle">1.6</text>
<text transform="translate(1809.3 1441.8) scale(0.892 1)" font-size="73.3" text-anchor="middle">1.7</text>
<text transform="translate(2032.3 1441.8) scale(0.892 1)" font-size="73.3" text-anchor="middle">1.8</text>
<text transform="translate(382.35 230.6) scale(0.925 1)" font-size="73.3">FG-layer</text>
<text transform="translate(1320.694 236.6) scale(0.903 1)" font-size="73.3">Plate</text>
<text transform="translate(1036.977 394.5) scale(0.912 1)" font-size="73.3">n=0 (without FG layer)</text>
<text transform="translate(1036.988 476.3) scale(0.906 1)" font-size="73.3">n=0.5</text>
<text transform="translate(1036.95 558.1) scale(0.925 1)" font-size="73.3">n=2</text>
<text transform="translate(1036.967 639.9) scale(0.916 1)" font-size="73.3">n=5</text>
<text class="sym" transform="translate(1503.634 662.8) scale(1.295 1.237)" font-size="66">⊙</text>
<text class="sym" transform="translate(1607.217 662.8) scale(1.298 1.237)" font-size="66">⊙</text>
<text class="sym" transform="translate(1509.9 957.2) scale(1.367 1.297)" font-size="62">⊗</text>
<text class="sym" transform="translate(1608 957.2) scale(1.367 1.297)" font-size="62">⊗</text>
<text transform="rotate(-90) scale(0.88 1)"><tspan x="-932.646" y="98.447" font-size="92.902">τ</tspan><tspan x="-896.213" y="125.865" font-size="59.826">θ</tspan><tspan x="-858.786" y="115.965" font-size="66.233">3</tspan><tspan x="-819.659" y="92.496" font-size="88.959">/</tspan><tspan x="-795.373" y="98.447" font-size="92.902">τ</tspan><tspan x="-758.418" y="62.304" font-size="69.376">∞</tspan><tspan x="-759.355" y="115.965" font-size="66.233">23</tspan></text>
<text transform="scale(0.88 1)"><tspan x="1767.33" y="546.763" font-size="68.693">τ</tspan><tspan x="1798.586" y="520.545" font-size="58.067">∞</tspan><tspan x="1798.678" y="579.155" font-size="55.377">23</tspan></text>
<text transform="scale(0.99 1)"><tspan x="1103.04" y="1539.5" font-size="80.6">r/r</tspan><tspan x="1179.506" y="1571.395" font-size="64.298">0</tspan></text>
</g>
</svg>
</body></html>
